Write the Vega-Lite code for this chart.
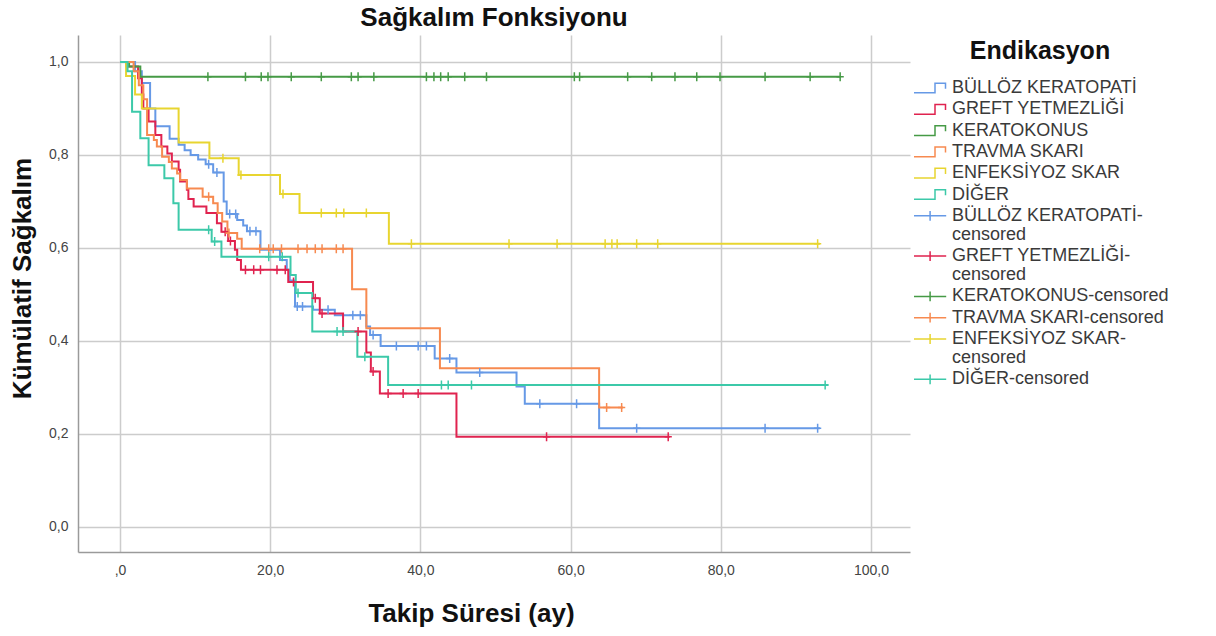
{
"$schema": "https://vega.github.io/schema/vega-lite/v6.json",
"width": 832, "height": 517,
"autosize": {"type": "none"},
"padding": {"left": 78, "top": 35, "right": 306, "bottom": 84},
"background": "white",
"title": {"text": "Sağkalım Fonksiyonu", "fontSize": 26, "fontWeight": "bold", "font": "Liberation Sans", "anchor": "middle", "offset": 4, "color": "#111111"},
"config": {"font": "Liberation Sans", "view": {"stroke": null}},
"datasets": {
"curves": [
{"g":"BÜLLÖZ KERATOPATİ","t":0,"s":1},{"g":"BÜLLÖZ KERATOPATİ","t":2.0,"s":0.98},{"g":"BÜLLÖZ KERATOPATİ","t":2.9,"s":0.955},{"g":"BÜLLÖZ KERATOPATİ","t":4.0,"s":0.9},{"g":"BÜLLÖZ KERATOPATİ","t":4.7,"s":0.862},{"g":"BÜLLÖZ KERATOPATİ","t":6.6,"s":0.835},{"g":"BÜLLÖZ KERATOPATİ","t":7.8,"s":0.822},{"g":"BÜLLÖZ KERATOPATİ","t":8.6,"s":0.81},{"g":"BÜLLÖZ KERATOPATİ","t":9.4,"s":0.8},{"g":"BÜLLÖZ KERATOPATİ","t":10.4,"s":0.79},{"g":"BÜLLÖZ KERATOPATİ","t":11.4,"s":0.78},{"g":"BÜLLÖZ KERATOPATİ","t":12.4,"s":0.762},{"g":"BÜLLÖZ KERATOPATİ","t":13.8,"s":0.7},{"g":"BÜLLÖZ KERATOPATİ","t":14.2,"s":0.673},{"g":"BÜLLÖZ KERATOPATİ","t":15.6,"s":0.66},{"g":"BÜLLÖZ KERATOPATİ","t":16.4,"s":0.648},{"g":"BÜLLÖZ KERATOPATİ","t":16.9,"s":0.636},{"g":"BÜLLÖZ KERATOPATİ","t":18.7,"s":0.596},{"g":"BÜLLÖZ KERATOPATİ","t":21.3,"s":0.574},{"g":"BÜLLÖZ KERATOPATİ","t":22.2,"s":0.553},{"g":"BÜLLÖZ KERATOPATİ","t":22.6,"s":0.53},{"g":"BÜLLÖZ KERATOPATİ","t":23.3,"s":0.474},{"g":"BÜLLÖZ KERATOPATİ","t":25.7,"s":0.467},{"g":"BÜLLÖZ KERATOPATİ","t":28.6,"s":0.455},{"g":"BÜLLÖZ KERATOPATİ","t":32.8,"s":0.431},{"g":"BÜLLÖZ KERATOPATİ","t":33.3,"s":0.413},{"g":"BÜLLÖZ KERATOPATİ","t":34.7,"s":0.389},{"g":"BÜLLÖZ KERATOPATİ","t":41.9,"s":0.362},{"g":"BÜLLÖZ KERATOPATİ","t":44.8,"s":0.332},{"g":"BÜLLÖZ KERATOPATİ","t":52.8,"s":0.302},{"g":"BÜLLÖZ KERATOPATİ","t":53.9,"s":0.265},{"g":"BÜLLÖZ KERATOPATİ","t":63.8,"s":0.212},{"g":"BÜLLÖZ KERATOPATİ","t":93.2,"s":0.212},
{"g":"GREFT YETMEZLİĞİ","t":0,"s":1},{"g":"GREFT YETMEZLİĞİ","t":0.8,"s":0.99},{"g":"GREFT YETMEZLİĞİ","t":2.4,"s":0.965},{"g":"GREFT YETMEZLİĞİ","t":2.9,"s":0.93},{"g":"GREFT YETMEZLİĞİ","t":3.1,"s":0.9},{"g":"GREFT YETMEZLİĞİ","t":3.8,"s":0.872},{"g":"GREFT YETMEZLİĞİ","t":4.7,"s":0.843},{"g":"GREFT YETMEZLİĞİ","t":5.5,"s":0.818},{"g":"GREFT YETMEZLİĞİ","t":6.3,"s":0.803},{"g":"GREFT YETMEZLİĞİ","t":6.9,"s":0.786},{"g":"GREFT YETMEZLİĞİ","t":7.8,"s":0.768},{"g":"GREFT YETMEZLİĞİ","t":8.0,"s":0.743},{"g":"GREFT YETMEZLİĞİ","t":8.9,"s":0.725},{"g":"GREFT YETMEZLİĞİ","t":9.1,"s":0.705},{"g":"GREFT YETMEZLİĞİ","t":9.8,"s":0.689},{"g":"GREFT YETMEZLİĞİ","t":11.5,"s":0.675},{"g":"GREFT YETMEZLİĞİ","t":12.9,"s":0.653},{"g":"GREFT YETMEZLİĞİ","t":13.5,"s":0.635},{"g":"GREFT YETMEZLİĞİ","t":14.4,"s":0.615},{"g":"GREFT YETMEZLİĞİ","t":15.3,"s":0.596},{"g":"GREFT YETMEZLİĞİ","t":15.6,"s":0.574},{"g":"GREFT YETMEZLİĞİ","t":16.1,"s":0.553},{"g":"GREFT YETMEZLİĞİ","t":22.4,"s":0.527},{"g":"GREFT YETMEZLİĞİ","t":25.7,"s":0.492},{"g":"GREFT YETMEZLİĞİ","t":26.6,"s":0.459},{"g":"GREFT YETMEZLİĞİ","t":29.7,"s":0.42},{"g":"GREFT YETMEZLİĞİ","t":32.8,"s":0.375},{"g":"GREFT YETMEZLİĞİ","t":33.4,"s":0.334},{"g":"GREFT YETMEZLİĞİ","t":34.6,"s":0.287},{"g":"GREFT YETMEZLİĞİ","t":44.8,"s":0.194},{"g":"GREFT YETMEZLİĞİ","t":73.2,"s":0.194},
{"g":"KERATOKONUS","t":0,"s":1},{"g":"KERATOKONUS","t":1.2,"s":0.99},{"g":"KERATOKONUS","t":2.7,"s":0.968},{"g":"KERATOKONUS","t":95.9,"s":0.968},
{"g":"TRAVMA SKARI","t":0,"s":1},{"g":"TRAVMA SKARI","t":1.8,"s":0.98},{"g":"TRAVMA SKARI","t":2.5,"s":0.95},{"g":"TRAVMA SKARI","t":3.1,"s":0.92},{"g":"TRAVMA SKARI","t":3.6,"s":0.843},{"g":"TRAVMA SKARI","t":4.5,"s":0.832},{"g":"TRAVMA SKARI","t":4.9,"s":0.818},{"g":"TRAVMA SKARI","t":5.6,"s":0.796},{"g":"TRAVMA SKARI","t":6.5,"s":0.785},{"g":"TRAVMA SKARI","t":6.9,"s":0.771},{"g":"TRAVMA SKARI","t":7.6,"s":0.76},{"g":"TRAVMA SKARI","t":8.0,"s":0.746},{"g":"TRAVMA SKARI","t":8.9,"s":0.728},{"g":"TRAVMA SKARI","t":11.0,"s":0.71},{"g":"TRAVMA SKARI","t":12.4,"s":0.696},{"g":"TRAVMA SKARI","t":13.0,"s":0.675},{"g":"TRAVMA SKARI","t":13.6,"s":0.657},{"g":"TRAVMA SKARI","t":14.3,"s":0.632},{"g":"TRAVMA SKARI","t":15.6,"s":0.62},{"g":"TRAVMA SKARI","t":16.2,"s":0.598},{"g":"TRAVMA SKARI","t":30.9,"s":0.511},{"g":"TRAVMA SKARI","t":32.8,"s":0.427},{"g":"TRAVMA SKARI","t":42.6,"s":0.341},{"g":"TRAVMA SKARI","t":63.8,"s":0.257},{"g":"TRAVMA SKARI","t":67.0,"s":0.257},
{"g":"ENFEKSİYOZ SKAR","t":0,"s":1},{"g":"ENFEKSİYOZ SKAR","t":0.8,"s":0.97},{"g":"ENFEKSİYOZ SKAR","t":2.0,"s":0.93},{"g":"ENFEKSİYOZ SKAR","t":2.9,"s":0.9},{"g":"ENFEKSİYOZ SKAR","t":7.8,"s":0.827},{"g":"ENFEKSİYOZ SKAR","t":11.9,"s":0.793},{"g":"ENFEKSİYOZ SKAR","t":15.8,"s":0.757},{"g":"ENFEKSİYOZ SKAR","t":21.3,"s":0.716},{"g":"ENFEKSİYOZ SKAR","t":23.9,"s":0.675},{"g":"ENFEKSİYOZ SKAR","t":35.8,"s":0.609},{"g":"ENFEKSİYOZ SKAR","t":93.2,"s":0.609},
{"g":"DİĞER","t":0,"s":1},{"g":"DİĞER","t":1.0,"s":0.98},{"g":"DİĞER","t":1.6,"s":0.893},{"g":"DİĞER","t":2.7,"s":0.836},{"g":"DİĞER","t":3.8,"s":0.778},{"g":"DİĞER","t":5.9,"s":0.75},{"g":"DİĞER","t":7.1,"s":0.696},{"g":"DİĞER","t":7.8,"s":0.639},{"g":"DİĞER","t":12.2,"s":0.614},{"g":"DİĞER","t":13.5,"s":0.581},{"g":"DİĞER","t":22.7,"s":0.542},{"g":"DİĞER","t":23.4,"s":0.503},{"g":"DİĞER","t":25.6,"s":0.42},{"g":"DİĞER","t":31.6,"s":0.366},{"g":"DİĞER","t":35.7,"s":0.305},{"g":"DİĞER","t":94.3,"s":0.305}
],
"cens": [
{"g":"BÜLLÖZ KERATOPATİ-censored","t":11.8,"s":0.78},{"g":"BÜLLÖZ KERATOPATİ-censored","t":12.9,"s":0.762},{"g":"BÜLLÖZ KERATOPATİ-censored","t":14.6,"s":0.673},{"g":"BÜLLÖZ KERATOPATİ-censored","t":15.4,"s":0.673},{"g":"BÜLLÖZ KERATOPATİ-censored","t":17.3,"s":0.636},{"g":"BÜLLÖZ KERATOPATİ-censored","t":18.1,"s":0.636},{"g":"BÜLLÖZ KERATOPATİ-censored","t":23.6,"s":0.474},{"g":"BÜLLÖZ KERATOPATİ-censored","t":24.3,"s":0.474},{"g":"BÜLLÖZ KERATOPATİ-censored","t":27.7,"s":0.467},{"g":"BÜLLÖZ KERATOPATİ-censored","t":31.0,"s":0.455},{"g":"BÜLLÖZ KERATOPATİ-censored","t":32.0,"s":0.455},{"g":"BÜLLÖZ KERATOPATİ-censored","t":33.7,"s":0.413},{"g":"BÜLLÖZ KERATOPATİ-censored","t":36.8,"s":0.389},{"g":"BÜLLÖZ KERATOPATİ-censored","t":39.7,"s":0.389},{"g":"BÜLLÖZ KERATOPATİ-censored","t":40.8,"s":0.389},{"g":"BÜLLÖZ KERATOPATİ-censored","t":43.9,"s":0.362},{"g":"BÜLLÖZ KERATOPATİ-censored","t":47.9,"s":0.332},{"g":"BÜLLÖZ KERATOPATİ-censored","t":55.9,"s":0.265},{"g":"BÜLLÖZ KERATOPATİ-censored","t":60.8,"s":0.265},{"g":"BÜLLÖZ KERATOPATİ-censored","t":68.8,"s":0.212},{"g":"BÜLLÖZ KERATOPATİ-censored","t":85.9,"s":0.212},{"g":"BÜLLÖZ KERATOPATİ-censored","t":92.9,"s":0.212},
{"g":"GREFT YETMEZLİĞİ-censored","t":14.0,"s":0.635},{"g":"GREFT YETMEZLİĞİ-censored","t":14.7,"s":0.615},{"g":"GREFT YETMEZLİĞİ-censored","t":16.7,"s":0.553},{"g":"GREFT YETMEZLİĞİ-censored","t":17.8,"s":0.553},{"g":"GREFT YETMEZLİĞİ-censored","t":18.7,"s":0.553},{"g":"GREFT YETMEZLİĞİ-censored","t":20.9,"s":0.553},{"g":"GREFT YETMEZLİĞİ-censored","t":22.0,"s":0.553},{"g":"GREFT YETMEZLİĞİ-censored","t":23.1,"s":0.527},{"g":"GREFT YETMEZLİĞİ-censored","t":26.0,"s":0.492},{"g":"GREFT YETMEZLİĞİ-censored","t":26.9,"s":0.459},{"g":"GREFT YETMEZLİĞİ-censored","t":31.7,"s":0.42},{"g":"GREFT YETMEZLİĞİ-censored","t":33.7,"s":0.334},{"g":"GREFT YETMEZLİĞİ-censored","t":35.7,"s":0.287},{"g":"GREFT YETMEZLİĞİ-censored","t":37.7,"s":0.287},{"g":"GREFT YETMEZLİĞİ-censored","t":39.7,"s":0.287},{"g":"GREFT YETMEZLİĞİ-censored","t":56.8,"s":0.194},{"g":"GREFT YETMEZLİĞİ-censored","t":73.0,"s":0.194},
{"g":"KERATOKONUS-censored","t":11.7,"s":0.968},{"g":"KERATOKONUS-censored","t":16.7,"s":0.968},{"g":"KERATOKONUS-censored","t":18.8,"s":0.968},{"g":"KERATOKONUS-censored","t":19.7,"s":0.968},{"g":"KERATOKONUS-censored","t":22.8,"s":0.968},{"g":"KERATOKONUS-censored","t":26.8,"s":0.968},{"g":"KERATOKONUS-censored","t":30.8,"s":0.968},{"g":"KERATOKONUS-censored","t":31.7,"s":0.968},{"g":"KERATOKONUS-censored","t":33.8,"s":0.968},{"g":"KERATOKONUS-censored","t":40.8,"s":0.968},{"g":"KERATOKONUS-censored","t":41.8,"s":0.968},{"g":"KERATOKONUS-censored","t":42.7,"s":0.968},{"g":"KERATOKONUS-censored","t":43.7,"s":0.968},{"g":"KERATOKONUS-censored","t":45.9,"s":0.968},{"g":"KERATOKONUS-censored","t":48.8,"s":0.968},{"g":"KERATOKONUS-censored","t":60.5,"s":0.968},{"g":"KERATOKONUS-censored","t":61.2,"s":0.968},{"g":"KERATOKONUS-censored","t":67.6,"s":0.968},{"g":"KERATOKONUS-censored","t":70.8,"s":0.968},{"g":"KERATOKONUS-censored","t":73.9,"s":0.968},{"g":"KERATOKONUS-censored","t":76.8,"s":0.968},{"g":"KERATOKONUS-censored","t":79.9,"s":0.968},{"g":"KERATOKONUS-censored","t":85.9,"s":0.968},{"g":"KERATOKONUS-censored","t":91.9,"s":0.968},{"g":"KERATOKONUS-censored","t":95.9,"s":0.968},
{"g":"TRAVMA SKARI-censored","t":11.8,"s":0.71},{"g":"TRAVMA SKARI-censored","t":14.5,"s":0.632},{"g":"TRAVMA SKARI-censored","t":18.6,"s":0.598},{"g":"TRAVMA SKARI-censored","t":19.8,"s":0.598},{"g":"TRAVMA SKARI-censored","t":20.4,"s":0.598},{"g":"TRAVMA SKARI-censored","t":21.5,"s":0.598},{"g":"TRAVMA SKARI-censored","t":23.7,"s":0.598},{"g":"TRAVMA SKARI-censored","t":24.9,"s":0.598},{"g":"TRAVMA SKARI-censored","t":26.0,"s":0.598},{"g":"TRAVMA SKARI-censored","t":26.9,"s":0.598},{"g":"TRAVMA SKARI-censored","t":28.8,"s":0.598},{"g":"TRAVMA SKARI-censored","t":29.7,"s":0.598},{"g":"TRAVMA SKARI-censored","t":64.8,"s":0.257},{"g":"TRAVMA SKARI-censored","t":66.8,"s":0.257},
{"g":"ENFEKSİYOZ SKAR-censored","t":13.7,"s":0.793},{"g":"ENFEKSİYOZ SKAR-censored","t":16.1,"s":0.757},{"g":"ENFEKSİYOZ SKAR-censored","t":21.7,"s":0.716},{"g":"ENFEKSİYOZ SKAR-censored","t":26.8,"s":0.675},{"g":"ENFEKSİYOZ SKAR-censored","t":28.8,"s":0.675},{"g":"ENFEKSİYOZ SKAR-censored","t":29.8,"s":0.675},{"g":"ENFEKSİYOZ SKAR-censored","t":32.8,"s":0.675},{"g":"ENFEKSİYOZ SKAR-censored","t":38.8,"s":0.609},{"g":"ENFEKSİYOZ SKAR-censored","t":51.8,"s":0.609},{"g":"ENFEKSİYOZ SKAR-censored","t":58.2,"s":0.609},{"g":"ENFEKSİYOZ SKAR-censored","t":64.6,"s":0.609},{"g":"ENFEKSİYOZ SKAR-censored","t":65.5,"s":0.609},{"g":"ENFEKSİYOZ SKAR-censored","t":66.2,"s":0.609},{"g":"ENFEKSİYOZ SKAR-censored","t":68.8,"s":0.609},{"g":"ENFEKSİYOZ SKAR-censored","t":71.6,"s":0.609},{"g":"ENFEKSİYOZ SKAR-censored","t":92.9,"s":0.609},
{"g":"DİĞER-censored","t":11.8,"s":0.639},{"g":"DİĞER-censored","t":12.6,"s":0.614},{"g":"DİĞER-censored","t":19.8,"s":0.581},{"g":"DİĞER-censored","t":21.6,"s":0.581},{"g":"DİĞER-censored","t":23.7,"s":0.503},{"g":"DİĞER-censored","t":28.9,"s":0.42},{"g":"DİĞER-censored","t":29.7,"s":0.42},{"g":"DİĞER-censored","t":32.6,"s":0.366},{"g":"DİĞER-censored","t":42.8,"s":0.305},{"g":"DİĞER-censored","t":43.7,"s":0.305},{"g":"DİĞER-censored","t":46.8,"s":0.305},{"g":"DİĞER-censored","t":93.9,"s":0.305}
]
},
"layer": [
{
"data": {"name": "curves"},
"mark": {"type": "line", "interpolate": "step-after", "strokeWidth": 2},
"encoding": {
"x": {"field": "t", "type": "quantitative", "scale": {"domain": [-5.6, 105.2], "nice": false, "zero": false},
"axis": {"values": [0, 20, 40, 60, 80, 100], "labelExpr": "datum.value == 0 ? ',0' : replace(format(datum.value, '.1f'), '.', ',')", "ticks": false, "labelPadding": 11, "labelFontSize": 14, "labelColor": "#444444", "title": "Takip Süresi (ay)", "titleFontSize": 26, "titleFontWeight": "bold", "titleColor": "#111111", "titleX": 393, "titleY": 69, "titleBaseline": "alphabetic", "titleAlign": "center", "gridColor": "#cccccc", "gridWidth": 1.5, "domainColor": "#9a9a9a", "domainWidth": 1.5}},
"y": {"field": "s", "type": "quantitative", "scale": {"domain": [-0.054, 1.058], "nice": false, "zero": false},
"axis": {"values": [0, 0.2, 0.4, 0.6, 0.8, 1.0], "labelExpr": "replace(format(datum.value, '.1f'), '.', ',')", "ticks": false, "labelPadding": 10, "labelFontSize": 14, "labelColor": "#444444", "title": "Kümülatif Sağkalım", "titleFontSize": 26, "titleFontWeight": "bold", "titleColor": "#111111", "titleX": -48, "titleY": 243, "titleBaseline": "alphabetic", "titleAlign": "center", "titleAngle": 270, "gridColor": "#cccccc", "gridWidth": 1.5, "domainColor": "#9a9a9a", "domainWidth": 1.5}},
"color": {"field": "g", "type": "nominal",
"scale": {"domain": ["BÜLLÖZ KERATOPATİ", "GREFT YETMEZLİĞİ", "KERATOKONUS", "TRAVMA SKARI", "ENFEKSİYOZ SKAR", "DİĞER", "BÜLLÖZ KERATOPATİ-censored", "GREFT YETMEZLİĞİ-censored", "KERATOKONUS-censored", "TRAVMA SKARI-censored", "ENFEKSİYOZ SKAR-censored", "DİĞER-censored"],
"range": ["#6699e6", "#e0234f", "#469a46", "#f78a50", "#e8d530", "#3cc9a9", "#6699e6", "#e0234f", "#469a46", "#f78a50", "#e8d530", "#3cc9a9"]},
"legend": {"orient": "none", "legendX": 834, "legendY": 4, "title": "Endikasyon", "titleFontSize": 25, "titleFontWeight": "bold", "titleColor": "#111111", "titleAnchor": "middle", "titlePadding": 15, "labelFontSize": 18, "labelColor": "#3a3a3a", "labelLimit": 400, "labelOffset": 22, "symbolSize": 196, "rowPadding": 3.3,
"labelExpr": "datum.label == 'BÜLLÖZ KERATOPATİ-censored' ? ['BÜLLÖZ KERATOPATİ-', 'censored'] : datum.label == 'GREFT YETMEZLİĞİ-censored' ? ['GREFT YETMEZLİĞİ-', 'censored'] : datum.label == 'ENFEKSİYOZ SKAR-censored' ? ['ENFEKSİYOZ SKAR-', 'censored'] : datum.label",
"encode": {
"symbols": {"update": {"shape": {"signal": "indexof(datum.label, 'censored') >= 0 ? 'M-1,0L3.6,0M1.3,-0.7L1.3,0.7' : 'M-1,0.69L2,0.69L2,-0.69L3.5,-0.69L3.5,0.1'"}, "fill": {"value": "transparent"}, "stroke": {"signal": "scale('color', datum.value)"}, "strokeWidth": {"value": 1.5}, "opacity": {"value": 1}}},
"labels": {"update": {"lineHeight": {"value": 19}}}
}}
}
}
},
{
"data": {"name": "cens"},
"mark": {"type": "point", "shape": "M0,-1L0,1M-0.8,0L0.8,0", "filled": false, "size": 81, "strokeWidth": 1.5, "opacity": 1},
"encoding": {
"x": {"field": "t", "type": "quantitative"},
"y": {"field": "s", "type": "quantitative"},
"color": {"field": "g", "type": "nominal"}
}
}
]
}
